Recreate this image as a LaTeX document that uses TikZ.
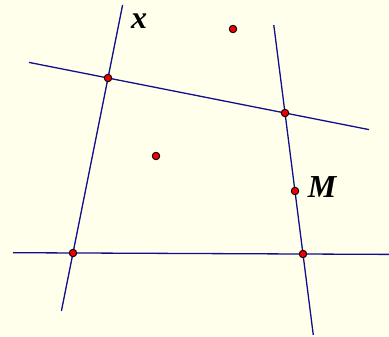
\documentclass[tikz,border=0pt]{standalone}
\usepackage{fontspec}
\setmainfont{Liberation Serif}
\definecolor{bgc}{RGB}{255,255,236}
\definecolor{linec}{RGB}{16,16,140}
\definecolor{ptred}{RGB}{240,0,0}
\begin{document}
\begin{tikzpicture}[x=1pt,y=-1pt,
  ln/.style={draw=linec,line width=1.3pt},
  pt/.style={circle,draw=black,fill=ptred,line width=0.9pt,inner sep=0pt,minimum size=7.5pt},
  lbl/.style={font=\fontsize{32}{32}\selectfont\bfseries\itshape,inner sep=0pt}]
\fill[bgc] (0,0) rectangle (389,337);
\useasboundingbox (0,0) rectangle (389,337);
% line end points
\coordinate (L1) at (122.6,5);
\coordinate (L2) at (61.4,311);
\coordinate (T1) at (29,62.4);
\coordinate (T2) at (369,129.6);
\coordinate (R1) at (273.8,25);
\coordinate (R2) at (313.3,335);
\coordinate (B1) at (13,252.7);
\coordinate (B2) at (389,254.4);
\draw[ln] (L1) -- (L2);
\draw[ln] (T1) -- (T2);
\draw[ln] (R1) -- (R2);
\draw[ln] (B1) -- (B2);
% points
\node[pt] (A) at (108,78) {};
\node[pt] (C) at (285,113) {};
\node[pt] (B) at (73,253) {};
\node[pt] (D) at (303,254) {};
\node[pt] (M) at (295,191) {};
\node[pt] (P) at (233,29) {};
\node[pt] (Q) at (156,156) {};
% labels
\node[lbl] (xl) at (139,21) {x};
\node[lbl] (ml) at (322,187) {M};
\end{tikzpicture}
\end{document}
